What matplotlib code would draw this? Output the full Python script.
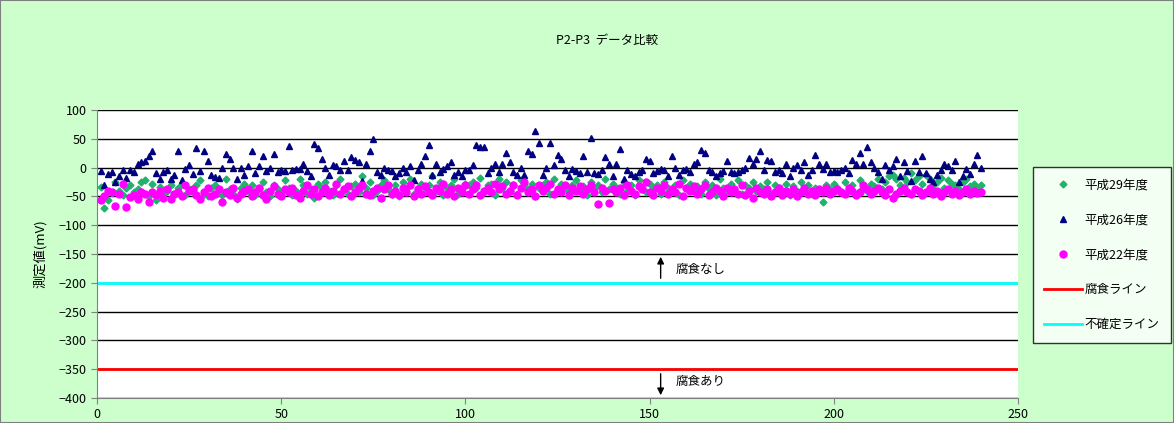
import matplotlib
matplotlib.use("Agg")
import matplotlib.pyplot as plt
from matplotlib.lines import Line2D
from matplotlib.patches import Rectangle
import numpy as np

plt.rcParams["font.family"] = ["Noto Sans CJK JP", "DejaVu Sans"]

# 測定番号 1..240
x_idx = np.arange(1, 241)

# 平成26年度
h26 = [
    -6, -31, -11, -8, -25, -14, -4, -18, -4, -8, 6, 9, 12, 21, 29, -10, -20, -8, -5, -20,
    -12, 29, -22, -3, 5, -11, 34, -6, 28, 12, -12, -16, -18, 0, 24, 15, 0, -20, 0, -12,
    3, 28, -10, 3, 20, -6, 0, 24, -8, -4, -6, 38, -4, -2, -2, 7, -6, -14, 41, 34,
    15, 0, -12, 5, 3, -4, 12, -4, 19, 13, 9, -24, 7, 28, 49, -8, -12, 0, -4, -6,
    -14, -10, 0, -8, 3, -22, -5, 6, 21, 40, -12, 6, -8, -2, 2, 9, -12, -8, -15, -4,
    -5, 5, 40, 36, 35, -10, 0, 6, -8, 7, 25, 9, -8, -12, 0, -12, 28, 24, 63, 42,
    -12, 0, 42, 5, 22, 15, -4, -15, -2, -6, -10, 21, -8, 51, -10, -11, -4, 18, 6, -14,
    6, 32, -20, -5, -11, -14, -8, -4, 15, 12, -10, -6, -2, -4, -15, 21, 0, -12, -4, -2,
    -8, 7, 9, 30, 26, -5, -8, -14, -10, -6, 12, -8, -10, -8, -4, 0, 17, 6, 15, 28,
    -5, 13, 12, -8, -4, -10, 6, -14, 0, 5, -4, 9, -12, -5, 22, 6, -2, 7, -8, -6,
    -8, -4, 0, -10, 13, 7, 26, 6, 36, 9, 0, -8, -20, 5, -4, 3, 15, -14, 9, -6,
    -24, 11, -8, 21, -10, -20, -25, -12, -4, 6, 3, -4, 12, -25, -15, -2, -11, 6, 22, 0,
]

# 平成29年度
h29 = [
    -34, -70, -57, -44, -25, -40, -48, -35, -30, -42, -38, -25, -22, -50, -28, -57, -34, -45, -40, -30,
    -45, -35, -28, -48, -38, -40, -30, -22, -45, -50, -35, -30, -42, -48, -20, -38, -45, -55, -35, -28,
    -40, -30, -48, -36, -25, -42, -50, -30, -38, -45, -22, -35, -48, -40, -20, -30, -45, -38, -52, -28,
    -35, -25, -40, -48, -30, -20, -38, -45, -32, -28, -42, -15, -35, -25, -48, -40, -30, -22, -38, -45,
    -30, -50, -25, -38, -20, -45, -35, -28, -42, -30, -15, -40, -25, -48, -35, -30, -20, -45, -38, -28,
    -30, -25, -35, -18, -42, -30, -28, -48, -20, -35, -25, -40, -30, -45, -22, -32, -38, -28, -50, -35,
    -30, -25, -45, -20, -38, -28, -35, -42, -30, -22, -40, -32, -48, -25, -35, -30, -42, -20, -38, -28,
    -35, -45, -25, -40, -30, -48, -22, -35, -42, -28, -38, -30, -45, -25, -35, -40, -30, -48, -22, -36,
    -28, -40, -32, -45, -25, -38, -30, -48, -20, -35, -42, -28, -38, -22, -45, -30, -35, -25, -40, -32,
    -38, -25, -45, -30, -35, -42, -28, -48, -32, -40, -25, -38, -30, -45, -35, -42, -60, -30, -38, -28,
    -35, -42, -25, -38, -30, -45, -22, -35, -40, -28, -32, -20, -38, -25, -15, -12, -20, -30, -18, -25,
    -10, -22, -15, -28, -12, -20, -30, -25, -18, -35, -22, -28, -30, -38, -25, -20, -32, -28, -35, -30,
]

# 平成22年度
h22 = [
    -57, -50, -40, -43, -66, -45, -28, -68, -51, -48, -55, -43, -45, -60, -43, -48, -40, -52, -38, -54,
    -45, -43, -50, -31, -40, -38, -48, -55, -42, -35, -50, -45, -38, -60, -42, -48, -35, -52, -45, -40,
    -38, -50, -42, -35, -48, -55, -40, -32, -45, -50, -38, -42, -35, -48, -52, -40, -30, -45, -38, -50,
    -42, -35, -48, -40, -28, -45, -38, -32, -50, -42, -36, -30, -45, -48, -40, -35, -52, -38, -30, -45,
    -40, -48, -35, -42, -30, -50, -38, -45, -32, -42, -48, -35, -40, -28, -45, -38, -50, -35, -42, -30,
    -45, -38, -30, -48, -40, -35, -42, -28, -38, -32, -45, -40, -30, -48, -35, -25, -42, -38, -50, -30,
    -40, -35, -28, -45, -38, -42, -30, -48, -35, -40, -32, -45, -38, -30, -42, -63, -35, -40, -62, -38,
    -42, -35, -48, -30, -40, -45, -32, -38, -25, -42, -48, -35, -40, -30, -45, -38, -42, -28, -50, -35,
    -40, -32, -45, -38, -30, -48, -42, -35, -40, -50, -35, -42, -38, -45, -30, -48, -40, -52, -35, -42,
    -45, -38, -50, -42, -35, -48, -40, -45, -38, -50, -42, -35, -45, -40, -48, -38, -42, -35, -45, -40,
    -38, -42, -45, -35, -40, -48, -42, -30, -38, -45, -40, -35, -42, -48, -38, -52, -45, -40, -35, -42,
    -45, -38, -40, -48, -42, -35, -45, -40, -50, -42, -38, -45, -40, -48, -42, -38, -45, -40, -44, -42,
]

corrosion_line = -350
uncertain_line = -200

BG = "#CCFFCC"
C29 = "#22B26E"
C26 = "#000080"
C22 = "#FF00FF"

fig = plt.figure(figsize=(11.74, 4.23), dpi=100, facecolor=BG)
ax = fig.add_axes([97 / 1174, 25 / 423, 921 / 1174, 288 / 423])
ax.set_facecolor("white")

ax.set_xlim(0, 250)
ax.set_ylim(-400, 100)
ax.set_yticks(np.arange(-400, 101, 50))
ax.set_xticks(np.arange(0, 251, 50))
ax.yaxis.grid(True, color="black", linewidth=1.0)
ax.set_axisbelow(True)
for side in ["top", "right"]:
    ax.spines[side].set_visible(False)
for side in ["left", "bottom"]:
    ax.spines[side].set_color("#808080")
ax.tick_params(axis="both", labelsize=9, colors="black", length=4, color="#808080")
ax.set_ylabel("測定値(mV)", fontsize=9.5, labelpad=8)

ax.axhline(uncertain_line, color="#00FFFF", linewidth=2, zorder=2)
ax.axhline(corrosion_line, color="#FF0000", linewidth=2, zorder=2)

ax.plot(x_idx, h29, linestyle="none", marker="D", markersize=3.5, color=C29, zorder=3)
ax.plot(x_idx, h26, linestyle="none", marker="^", markersize=5, color=C26, zorder=3)
ax.plot(x_idx, h22, linestyle="none", marker="o", markersize=5, color=C22, zorder=3)

# 判定の矢印と注記
arrow = dict(arrowstyle="-|>", color="black", lw=1, mutation_scale=10)
ax.annotate("", xy=(153, -150), xytext=(153, -197), arrowprops=arrow, zorder=4)
ax.annotate("", xy=(153, -400), xytext=(153, -353), arrowprops=arrow, zorder=4,
            annotation_clip=False)
ax.text(157, -177, "腐食なし", fontsize=9, va="center", ha="left")
ax.text(157, -371, "腐食あり", fontsize=9, va="center", ha="left")

fig.text(607 / 1174, 1 - 40 / 423, "P2-P3  データ比較", fontsize=9, ha="center", va="center")

handles = [
    Line2D([], [], linestyle="none", marker="D", markersize=3.5, color=C29),
    Line2D([], [], linestyle="none", marker="^", markersize=5, color=C26),
    Line2D([], [], linestyle="none", marker="o", markersize=5, color=C22),
    Line2D([], [], color="#FF0000", linewidth=2),
    Line2D([], [], color="#00FFFF", linewidth=2),
]
labels = ["平成29年度", "平成26年度", "平成22年度", "腐食ライン", "不確定ライン"]
leg = fig.legend(handles, labels, loc="center left", bbox_to_anchor=(1033 / 1174, 1 - 255 / 423),
                 fontsize=9, frameon=True, fancybox=False, edgecolor="black",
                 labelspacing=1.75, handlelength=3.0, handletextpad=0.2, borderpad=0.9,
                 borderaxespad=0)
leg.get_frame().set_linewidth(1.0)

fig.patches.append(Rectangle((0, 0), 1, 1, transform=fig.transFigure, fill=False,
                             edgecolor="#808080", linewidth=1.5))

fig.savefig("out.png", dpi=100, facecolor=BG)
